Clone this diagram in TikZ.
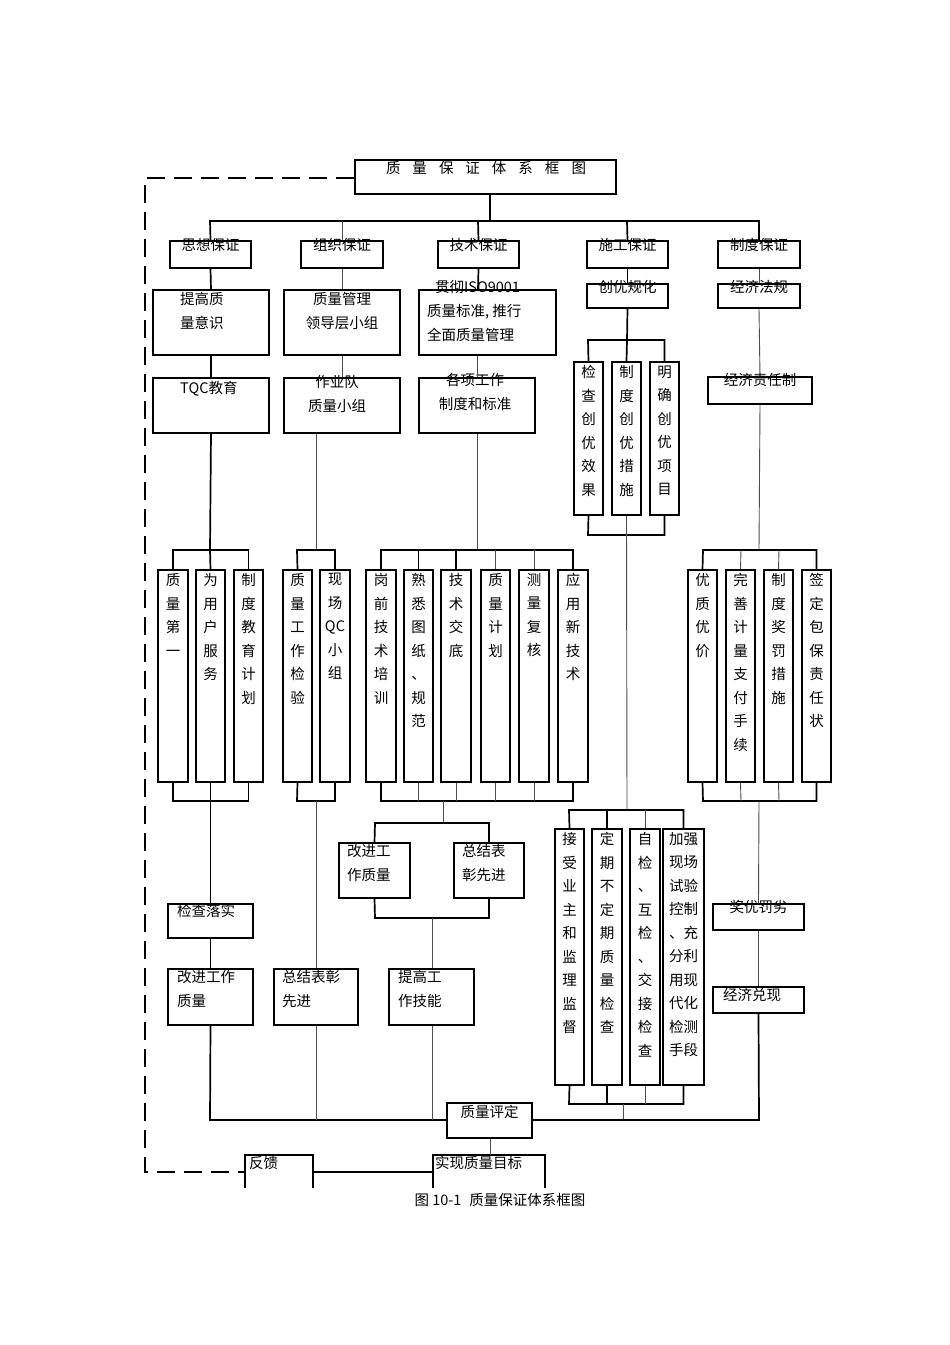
\documentclass[tikz,border=0pt]{standalone}
\usepackage{fontspec}
\setmainfont{Noto Sans CJK SC}
\begin{document}
\begin{tikzpicture}[x=1pt,y=-1pt,
  box/.style={draw=black,line width=1.5pt,inner sep=0pt,rectangle},
  tx/.style={inner sep=0pt,font=\fontsize{14.5}{24}\selectfont,align=left},
  txc/.style={inner sep=0pt,font=\fontsize{14.5}{24}\selectfont,align=center},
  thick/.style={line width=1.7pt,black},
  thin/.style={line width=0.9pt,black!70},
  dsh/.style={line width=1.5pt,dash pattern=on 18pt off 9pt}]
\useasboundingbox (0,0) rectangle (950,1345);
\fill[white] (0,0) rectangle (950,1345);
\newcommand\bx[5]{\node[box,minimum width={(#4-#2)*1pt},minimum height={(#5-#3)*1pt}] (#1) at ({(#2+#4)/2},{(#3+#5)/2}) {};}
\newcommand\vb[5]{\bx{#1}{#2}{#3}{#4}{#5}}
% ---------- boxes ----------
\bx{T}{355}{160}{616}{194}
\bx{A}{170}{241}{251}{268}
\bx{B}{301}{241}{383}{268}
\bx{C}{438}{241}{519}{268}
\bx{D}{587}{241}{668}{268}
\bx{E}{718}{241}{800}{268}
\bx{A1}{153}{290}{269}{355}
\bx{B1}{284}{290}{400}{355}
\bx{C1}{419}{290}{556}{355}
\bx{D1}{587}{284}{668}{308}
\bx{E1}{718}{284}{800}{308}
\bx{A2}{153}{378}{269}{433}
\bx{B2}{284}{378}{400}{433}
\bx{C2}{419}{378}{535}{433}
\bx{E2}{708}{377}{812}{404}
\bx{D21}{574}{362}{603}{515}
\bx{D22}{612}{362}{641}{515}
\bx{D23}{650}{362}{679}{515}
% row of vertical boxes
\bx{a1}{158}{570}{188}{782}
\bx{a2}{196}{570}{225}{782}
\bx{a3}{234}{570}{263}{782}
\bx{b1}{283}{570}{312}{782}
\bx{b2}{320}{570}{350}{782}
\bx{c1}{366}{570}{396}{782}
\bx{c2}{404}{570}{433}{782}
\bx{c3}{441}{570}{471}{782}
\bx{c4}{481}{570}{510}{782}
\bx{c5}{519}{570}{549}{782}
\bx{c6}{558}{570}{588}{782}
\bx{e1}{688}{570}{717}{782}
\bx{e2}{726}{570}{755}{782}
\bx{e3}{764}{570}{793}{782}
\bx{e4}{802}{570}{831}{782}
% lower boxes
\bx{a4}{168}{904}{253}{938}
\bx{a5}{168}{969}{253}{1025}
\bx{b4}{274}{969}{358}{1025}
\bx{c7}{339}{843}{410}{898}
\bx{c8}{454}{843}{524}{898}
\bx{c9}{389}{969}{474}{1025}
\bx{d1}{555}{829}{584}{1085}
\bx{d2}{592}{829}{622}{1085}
\bx{d3}{630}{829}{660}{1085}
\bx{d4}{663}{829}{704}{1085}
\bx{e5}{713}{904}{804}{930}
\bx{e6}{713}{987}{804}{1013}
\bx{Q}{447}{1103}{532}{1138}
% open-bottom boxes
\draw[line width=1.5pt] (245,1188) -- (245,1155) -- (313,1155) -- (313,1188);
\draw[line width=1.5pt] (433,1188) -- (433,1155) -- (545,1155) -- (545,1188);
\coordinate (F) at (245,1172);
\coordinate (Fr) at (313,1172);
\coordinate (G) at (433,1172);
\coordinate (Gt) at (490,1155);
% ---------- texts ----------
\node[tx,anchor=north] at (486,161) {质\hspace{12pt}量\hspace{12pt}保\hspace{12pt}证\hspace{12pt}体\hspace{12pt}系\hspace{12pt}框\hspace{12pt}图};
\foreach \n/\t in {A/思想保证,B/组织保证,C/技术保证,D/施工保证,E/制度保证}
  \node[txc,anchor=north] at ([yshift=2pt]\n.north) {\t};
\node[tx,anchor=north west] at (180,292) {提高质\\量意识};
\node[txc,anchor=north] at (342,292) {质量管理\\领导层小组};
\node[tx,anchor=north west] at (427,280) {\hspace{8pt}贯彻ISO9001\\质量标准, 推行\\全面质量管理};
\node[txc,anchor=north] at ([yshift=3pt]D1.north) {创优规化};
\node[txc,anchor=north] at ([yshift=3pt]E1.north) {经济法规};
\node[tx,anchor=north west] at (180,381) {TQC教育};
\node[txc,anchor=north] at (337,375) {作业队\\质量小组};
\node[txc,anchor=north] at (475,373) {各项工作\\制度和标准};
\node[txc,anchor=north] at ([yshift=3pt]E2.north) {经济责任制};
\newcommand\vt[2]{\node[txc,anchor=north,font=\fontsize{14.5}{23.5}\selectfont] at ([yshift=-4pt]#1.north) {#2};}
\vt{D21}{检\\查\\创\\优\\效\\果}
\vt{D22}{制\\度\\创\\优\\措\\施}
\vt{D23}{明\\确\\创\\优\\项\\目}
\vt{a1}{质\\量\\第\\一}
\vt{a2}{为\\用\\户\\服\\务}
\vt{a3}{制\\度\\教\\育\\计\\划}
\vt{b1}{质\\量\\工\\作\\检\\验}
\vt{b2}{现\\场\\QC\\小\\组}
\vt{c1}{岗\\前\\技\\术\\培\\训}
\vt{c2}{熟\\悉\\图\\纸\\、\\规\\范}
\vt{c3}{技\\术\\交\\底}
\vt{c4}{质\\量\\计\\划}
\vt{c5}{测\\量\\复\\核}
\vt{c6}{应\\用\\新\\技\\术}
\vt{e1}{优\\质\\优\\价}
\vt{e2}{完\\善\\计\\量\\支\\付\\手\\续}
\vt{e3}{制\\度\\奖\\罚\\措\\施}
\vt{e4}{签\\定\\包\\保\\责\\任\\状}
\vt{d1}{接\\受\\业\\主\\和\\监\\理\\监\\督}
\vt{d2}{定\\期\\不\\定\\期\\质\\量\\检\\查}
\vt{d3}{自\\检\\、\\互\\检\\、\\交\\接\\检\\查}
\vt{d4}{加强\\现场\\试验\\控制\\、充\\分利\\用现\\代化\\检测\\手段}
\node[tx,anchor=north west] at (177,904) {检查落实};
\node[tx,anchor=north west] at (177,970) {改进工作\\质量};
\node[tx,anchor=north west] at (282,970) {总结表彰\\先进};
\node[tx,anchor=north west] at (398,970) {提高工\\作技能};
\node[tx,anchor=north west] at (347,844) {改进工\\作质量};
\node[tx,anchor=north west] at (462,844) {总结表\\彰先进};
\node[txc,anchor=north] at ([yshift=3pt]e5.north) {奖优罚劣};
\node[tx,anchor=north west] at (723,988) {经济兑现};
\node[txc,anchor=north] at ([yshift=-3pt]Q.north) {质量评定};
\node[tx,anchor=north west] at (249,1156) {反馈};
\node[tx,anchor=north west] at (435,1156) {实现质量目标};
\node[txc,anchor=north] (cap) at (500,1193) {图 10-1\hspace{8pt}质量保证体系框图};
% ---------- connectors ----------
\draw[thick] (T.south -| 490,0) -- (490,221);
\draw[thick] (A.north) -- (210,221) -| (E.north);
\draw[thin] (B.north) -- (342,221);
\draw[thick] (C.north) -- (478,221);
\draw[thick] (D.north) -- (627,221);
\draw[thick] (A.south) -- (A1.north);
\draw[thick] (A1.south) -- (A2.north);
\draw[thin] (B.south) -- (B1.north);
\draw[thin] (B1.south) -- (B2.north -| 342,0);
\draw[thick] (C.south) -- (C1.north -| 478,0);
\draw[thin] (C1.south -| 477,0) -- (C2.north -| 477,0);
\draw[thick] (D.south) -- (D1.north);
\draw[thin] (E.south) -- (E1.north);
\draw[thin] (E1.south) -- (E2.north);
% creation group
\draw[thick] (D1.south) -- (627,340);
\draw[thick] (D21.north) -- (588,340) -| (D23.north);
\draw[thick] (D22.north) -- (627,340);
\draw[thick] (D21.south) -- (588,535) -| (D23.south);
\draw[thin] (D22.south) -- (627,810);
% left group
\draw[thick] (A2.south) -- (210,550);
\draw[thick] (a1.north) -- (173,550) -| (a3.north);
\draw[thick] (a2.north) -- (210,550);
\draw[thick] (a1.south) -- (173,801) -| (a3.south);
\draw[thick] (a2.south) -- (a4.north);
\draw[thick] (a4.south) -- (a5.north);
\draw[thick] (a5.south) -- (210,1120) -- (Q.west |- 0,1120);
% org group
\draw[thin] (B2.south -| 316,0) -- (316,550);
\draw[thick] (b1.north) -- (297,550) -| (b2.north);
\draw[thick] (b1.south) -- (297,801) -| (b2.south);
\draw[thin] (316,801) -- (b4.north -| 316,0);
\draw[thin] (b4.south -| 316,0) -- (316,1120);
% tech group
\draw[thin] (C2.south -| 477,0) -- (477,550);
\draw[thick] (c1.north) -- (381,550) -| (c6.north);
\foreach \n in {c2,c3} \draw[thick] (\n.north) -- (\n.north |- 0,550);
\foreach \n in {c4,c5} \draw[thin] (\n.north) -- (\n.north |- 0,550);
\draw[thick] (c1.south) -- (381,801) -| (c6.south);
\foreach \n in {c2,c3,c4,c5} \draw[thin] (\n.south) -- (\n.south |- 0,801);
\draw[thin] (443,801) -- (443,823);
\draw[thick] (c7.north) -- (375,823) -| (c8.north);
\draw[thick] (c7.south) -- (375,918) -| (c8.south);
\draw[thin] (432,918) -- (c9.north -| 432,0);
\draw[thin] (c9.south -| 432,0) -- (432,1120);
% construction lower group
\draw[thick] (d1.north) -- (569,810) -| (d4.north);
\draw[thick] (d2.north) -- (607,810);
\draw[thin] (d3.north) -- (645,810);
\draw[thick] (d1.south) -- (569,1104) -| (d4.south);
\draw[thick] (d2.south) -- (607,1104);
\draw[thin] (d3.south) -- (645,1104);
\draw[thin] (623,1104) -- (623,1120);
% system group
\draw[thin] (E2.south) -- (759,550);
\draw[thick] (e1.north) -- (703,550) -| (e4.north);
\draw[thin] (e2.north) -- (741,550);
\draw[thin] (e3.north) -- (779,550);
\draw[thick] (e1.south) -- (703,801) -| (e4.south);
\draw[thin] (e2.south) -- (741,801);
\draw[thin] (e3.south) -- (779,801);
\draw[thin] (759,801) -- (e5.north);
\draw[thin] (e5.south) -- (e6.north);
\draw[thick] (e6.south) -- (759,1120) -- (Q.east |- 0,1120);
% bottom
\draw[thin] (Q.south -| 490,0) -- (Gt);
\draw[thick] (Fr) -- (G);
\draw[dsh] (T.west |- 0,178) -- (145,178) -- (145,1172) -- (F);
\end{tikzpicture}
\end{document}
